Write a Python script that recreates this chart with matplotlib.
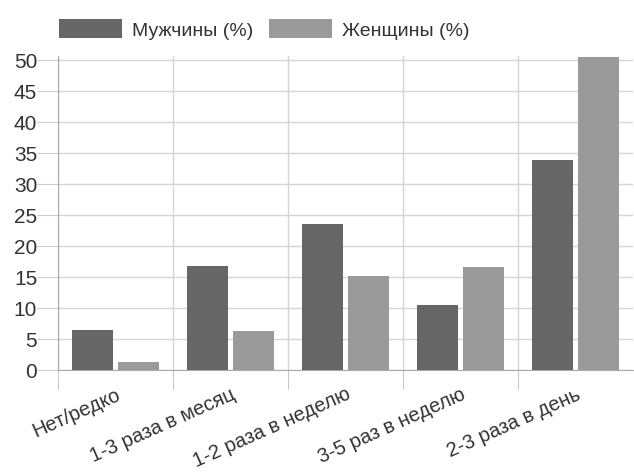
import numpy as np
import matplotlib
matplotlib.use('Agg')
import matplotlib.pyplot as plt
from matplotlib.ticker import FixedLocator

plt.rcParams['font.family'] = ['Liberation Sans', 'DejaVu Sans']

categories = ['Нет/редко', '1-3 раза в месяц', '1-2 раза в неделю', '3-5 раз в неделю', '2-3 раза в день']
men = [6.5, 16.7, 23.5, 10.5, 33.9]
women = [1.3, 6.3, 15.2, 16.6, 50.5]
series_names = ['Мужчины (%)', 'Женщины (%)']
yticks = [0, 5, 10, 15, 20, 25, 30, 35, 40, 45, 50]

fig = plt.figure(figsize=(6.34, 4.77), dpi=100)
ax = fig.add_axes([58 / 634, 106 / 477, 575 / 634, 314 / 477])

x = np.arange(len(categories))
w = 0.36
ax.bar(x - 0.2, men, w, color='#666666', label=series_names[0], zorder=3)
ax.bar(x + 0.2, women, w, color='#9a9a9a', label=series_names[1], zorder=3)

ax.set_xlim(-0.5, len(categories) - 0.5)
ax.set_ylim(0, 50.6)
ax.set_yticks(yticks)
ax.tick_params(axis='y', labelsize=15, length=15, color='#cccccc', labelcolor='#333333', pad=0)

ax.set_xticks(x)
ax.set_xticklabels(categories, rotation=24, ha='right', rotation_mode='anchor', fontsize=14.5, color='#333333')
ax.tick_params(axis='x', which='major', length=0, pad=10)
ax.xaxis.set_minor_locator(FixedLocator(np.arange(len(categories)) - 0.5))
ax.tick_params(axis='x', which='minor', length=14, color='#bbbbbb')

ax.grid(True, axis='y', color='#d5d5d5', linewidth=1, zorder=0)
ax.grid(True, axis='x', which='minor', color='#d5d5d5', linewidth=1, zorder=0)

for s in ['top', 'right']:
    ax.spines[s].set_visible(False)
ax.spines['left'].set_color('#aaaaaa')
ax.spines['bottom'].set_color('#aaaaaa')

fig.legend(loc='center', bbox_to_anchor=(264 / 634, 1 - 30 / 477), ncol=2, frameon=False,
           fontsize=14, handlelength=3.25, handleheight=1.13, columnspacing=0.8, handletextpad=0.5,
           labelcolor='#333333')

fig.savefig('out.png', dpi=100)
